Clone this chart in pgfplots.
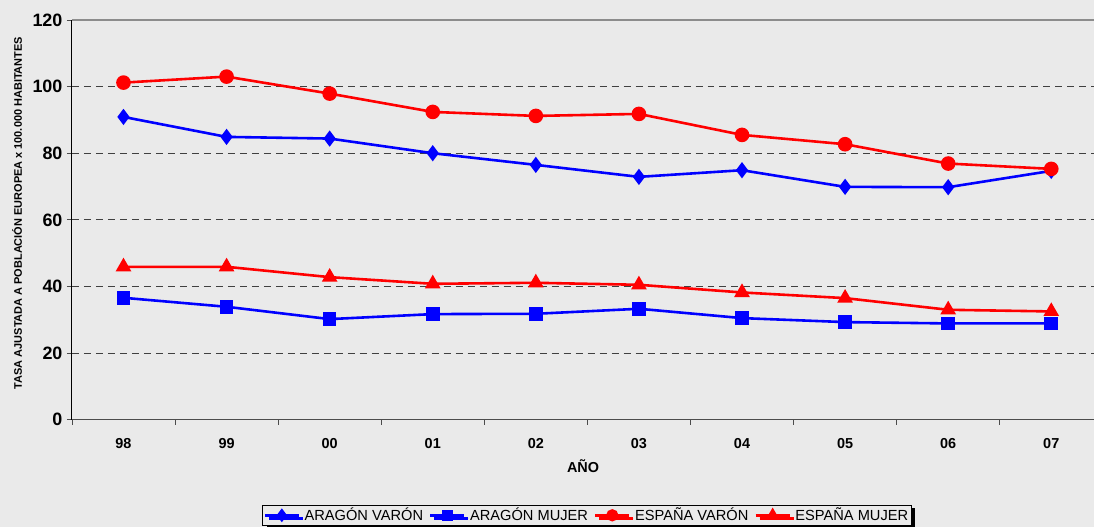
\documentclass[border=0pt]{standalone}
\usepackage{fontspec}
\setmainfont{Liberation Sans}
\usepackage{pgfplots}
\pgfplotsset{compat=1.18}
\usetikzlibrary{backgrounds,calc,shadows}

\definecolor{bg}{RGB}{234,234,234}
\definecolor{azul}{RGB}{0,0,255}
\definecolor{rojo}{RGB}{255,0,0}

\begin{document}
\begin{tikzpicture}
\begin{axis}[
    scale only axis,
    width=1023bp, height=400bp,
    xmin=-0.5, xmax=9.417,
    ymin=0, ymax=120,
    axis x line*=bottom,
    axis y line*=left,
    x axis line style={draw=black!70, line width=1.5bp},
    y axis line style={draw=black, line width=1bp},
    xtick={0,...,9},
    xticklabels={98,99,00,01,02,03,04,05,06,07},
    minor xtick={-0.5,0.5,...,8.5},
    ytick={0,20,...,120},
    tick align=outside,
    major tick length=5bp,
    minor tick length=5bp,
    x tick style={draw=none},
    minor x tick style={draw=black!70, line width=0.8bp},
    y tick style={draw=black!70, line width=0.8bp},
    ymajorgrids=true,
    major grid style={dashed, draw=black!75, line width=0.8bp, dash pattern=on 7bp off 5bp},
    /pgf/number format/assume math mode=true,
    yticklabel style={font=\fontsize{18}{20}\selectfont\bfseries, xshift=-1bp},
    xticklabel style={font=\fontsize{14.5}{16}\selectfont\bfseries, yshift=-10bp},
    xlabel={AÑO},
    xlabel style={font=\fontsize{14.5}{16}\selectfont\bfseries, yshift=-4bp},
    ylabel={TASA AJUSTADA A POBLACIÓN EUROPEA x 100.000 HABITANTES},
    ylabel style={font=\fontsize{11}{12}\selectfont\bfseries,
        at={(rel axis cs:0,0.517)}, anchor=center, yshift=55bp},
    every axis plot/.append style={line width=2.6bp},
    legend columns=4,
    legend style={at={(0.5037,-0.2125)}, anchor=north, draw=black, line width=1bp,
        fill=bg, font=\fontsize{14.7}{16}\selectfont, inner sep=1bp,
        drop shadow={shadow xshift=4bp, shadow yshift=-3bp, fill=black, opacity=1},
        /tikz/every odd column/.append style={column sep=2.5bp},
        /tikz/every even column/.append style={column sep=4bp}},
    legend image code/.code={\draw[mark repeat=2,mark phase=2,mark options={solid,scale=0.8}] plot coordinates {(0bp,0bp)(17bp,0bp)(34bp,0bp)};},
]
\addplot[azul, mark=diamond*, mark size=6bp, mark options={solid}] coordinates {
(0,90.9)(1,84.9)(2,84.4)(3,80.0)(4,76.5)(5,72.9)(6,74.9)(7,69.9)(8,69.8)(9,74.7)};
\addlegendentry{ARAGÓN VARÓN}
\addplot[azul, mark=square*, mark size=5.5bp] coordinates {
(0,36.6)(1,33.9)(2,30.2)(3,31.7)(4,31.8)(5,33.3)(6,30.5)(7,29.3)(8,28.9)(9,28.9)};
\addlegendentry{ARAGÓN MUJER}
\addplot[rojo, mark=*, mark size=6bp] coordinates {
(0,101.2)(1,103.0)(2,97.9)(3,92.4)(4,91.2)(5,91.8)(6,85.5)(7,82.7)(8,76.9)(9,75.3)};
\addlegendentry{ESPAÑA VARÓN}
\addplot[rojo, mark=triangle*, mark size=6.5bp] coordinates {
(0,45.9)(1,45.9)(2,42.8)(3,40.8)(4,41.1)(5,40.5)(6,38.2)(7,36.5)(8,33.0)(9,32.5)};
\addlegendentry{ESPAÑA MUJER}
\draw[draw=black!45, line width=1.5bp] (rel axis cs:0,1) -- (rel axis cs:1,1);
\coordinate (sw) at (rel axis cs:0,0);
\coordinate (ne) at (rel axis cs:1,1);
\end{axis}
\begin{scope}[on background layer]
\fill[bg] ($(sw)+(-72bp,-107bp)$) rectangle ($(ne)+(0bp,20bp)$);
\end{scope}
\end{tikzpicture}
\end{document}
